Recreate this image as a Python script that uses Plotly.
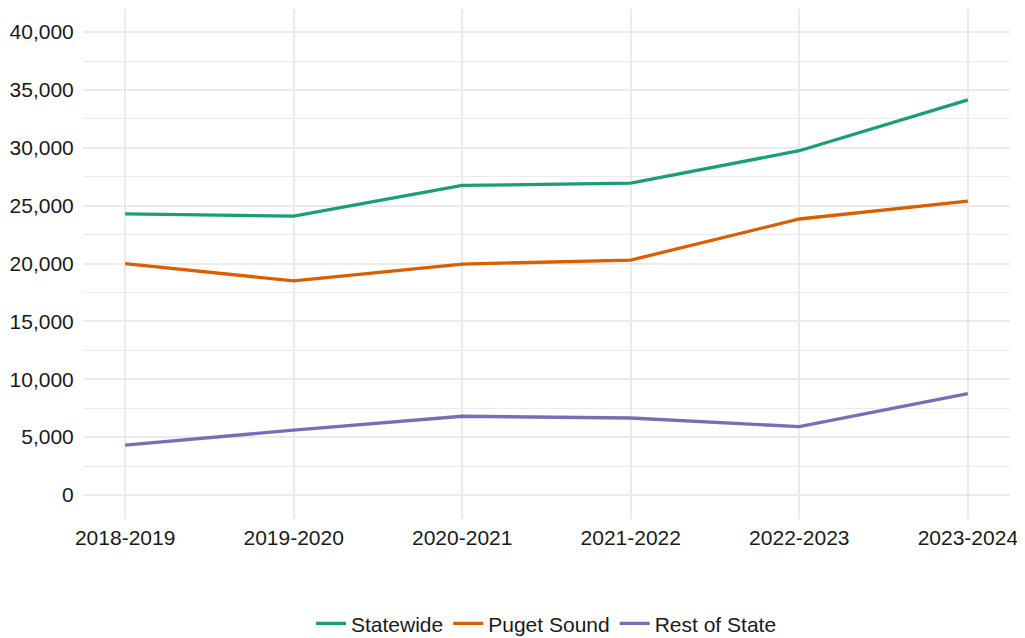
import plotly.graph_objects as go

years = ["2018-2019", "2019-2020", "2020-2021", "2021-2022", "2022-2023", "2023-2024"]
statewide = [24300, 24100, 26750, 26950, 29750, 34150]
puget_sound = [20000, 18500, 19950, 20300, 23850, 25400]
rest_of_state = [4300, 5600, 6800, 6650, 5900, 8750]

series = [
    ("Statewide", statewide, "#1B9E77"),
    ("Puget Sound", puget_sound, "#D95F02"),
    ("Rest of State", rest_of_state, "#7570B3"),
]

fig = go.Figure()
for name, vals, color in series:
    fig.add_trace(
        go.Scatter(
            x=list(range(len(years))),
            y=vals,
            name=name,
            mode="lines",
            line=dict(color=color, width=3.3),
        )
    )

# page body adds an 8px offset, so margins are shifted to compensate
fig.update_layout(
    width=1025,
    height=638,
    margin=dict(l=75, r=23, t=1, b=127),
    plot_bgcolor="white",
    paper_bgcolor="white",
    font=dict(family="Liberation Sans, Arial", size=21, color="#1a1a1a"),
    showlegend=True,
    legend=dict(
        orientation="h",
        x=0.5,
        xanchor="center",
        yref="container",
        y=0.035,
        yanchor="middle",
        font=dict(size=21),
        itemwidth=30,
    ),
)
fig.update_xaxes(
    tickvals=list(range(len(years))),
    ticktext=years,
    range=[-0.25, 5.25],
    showgrid=True,
    gridcolor="#EBEBEB",
    gridwidth=2,
    zeroline=False,
    showline=False,
    ticks="",
    ticklabelstandoff=4,
    automargin=False,
)
fig.update_yaxes(
    range=[-2080, 42000],
    tickvals=[0, 5000, 10000, 15000, 20000, 25000, 30000, 35000, 40000],
    tickformat=",d",
    showgrid=True,
    gridcolor="#EBEBEB",
    gridwidth=2,
    minor=dict(tickvals=[2500, 7500, 12500, 17500, 22500, 27500, 32500, 37500],
               showgrid=True, gridcolor="#EBEBEB", gridwidth=1),
    zeroline=False,
    showline=False,
    ticks="outside",
    ticklen=4,
    tickcolor="white",
    automargin=False,
)

fig.write_html("out.html")
